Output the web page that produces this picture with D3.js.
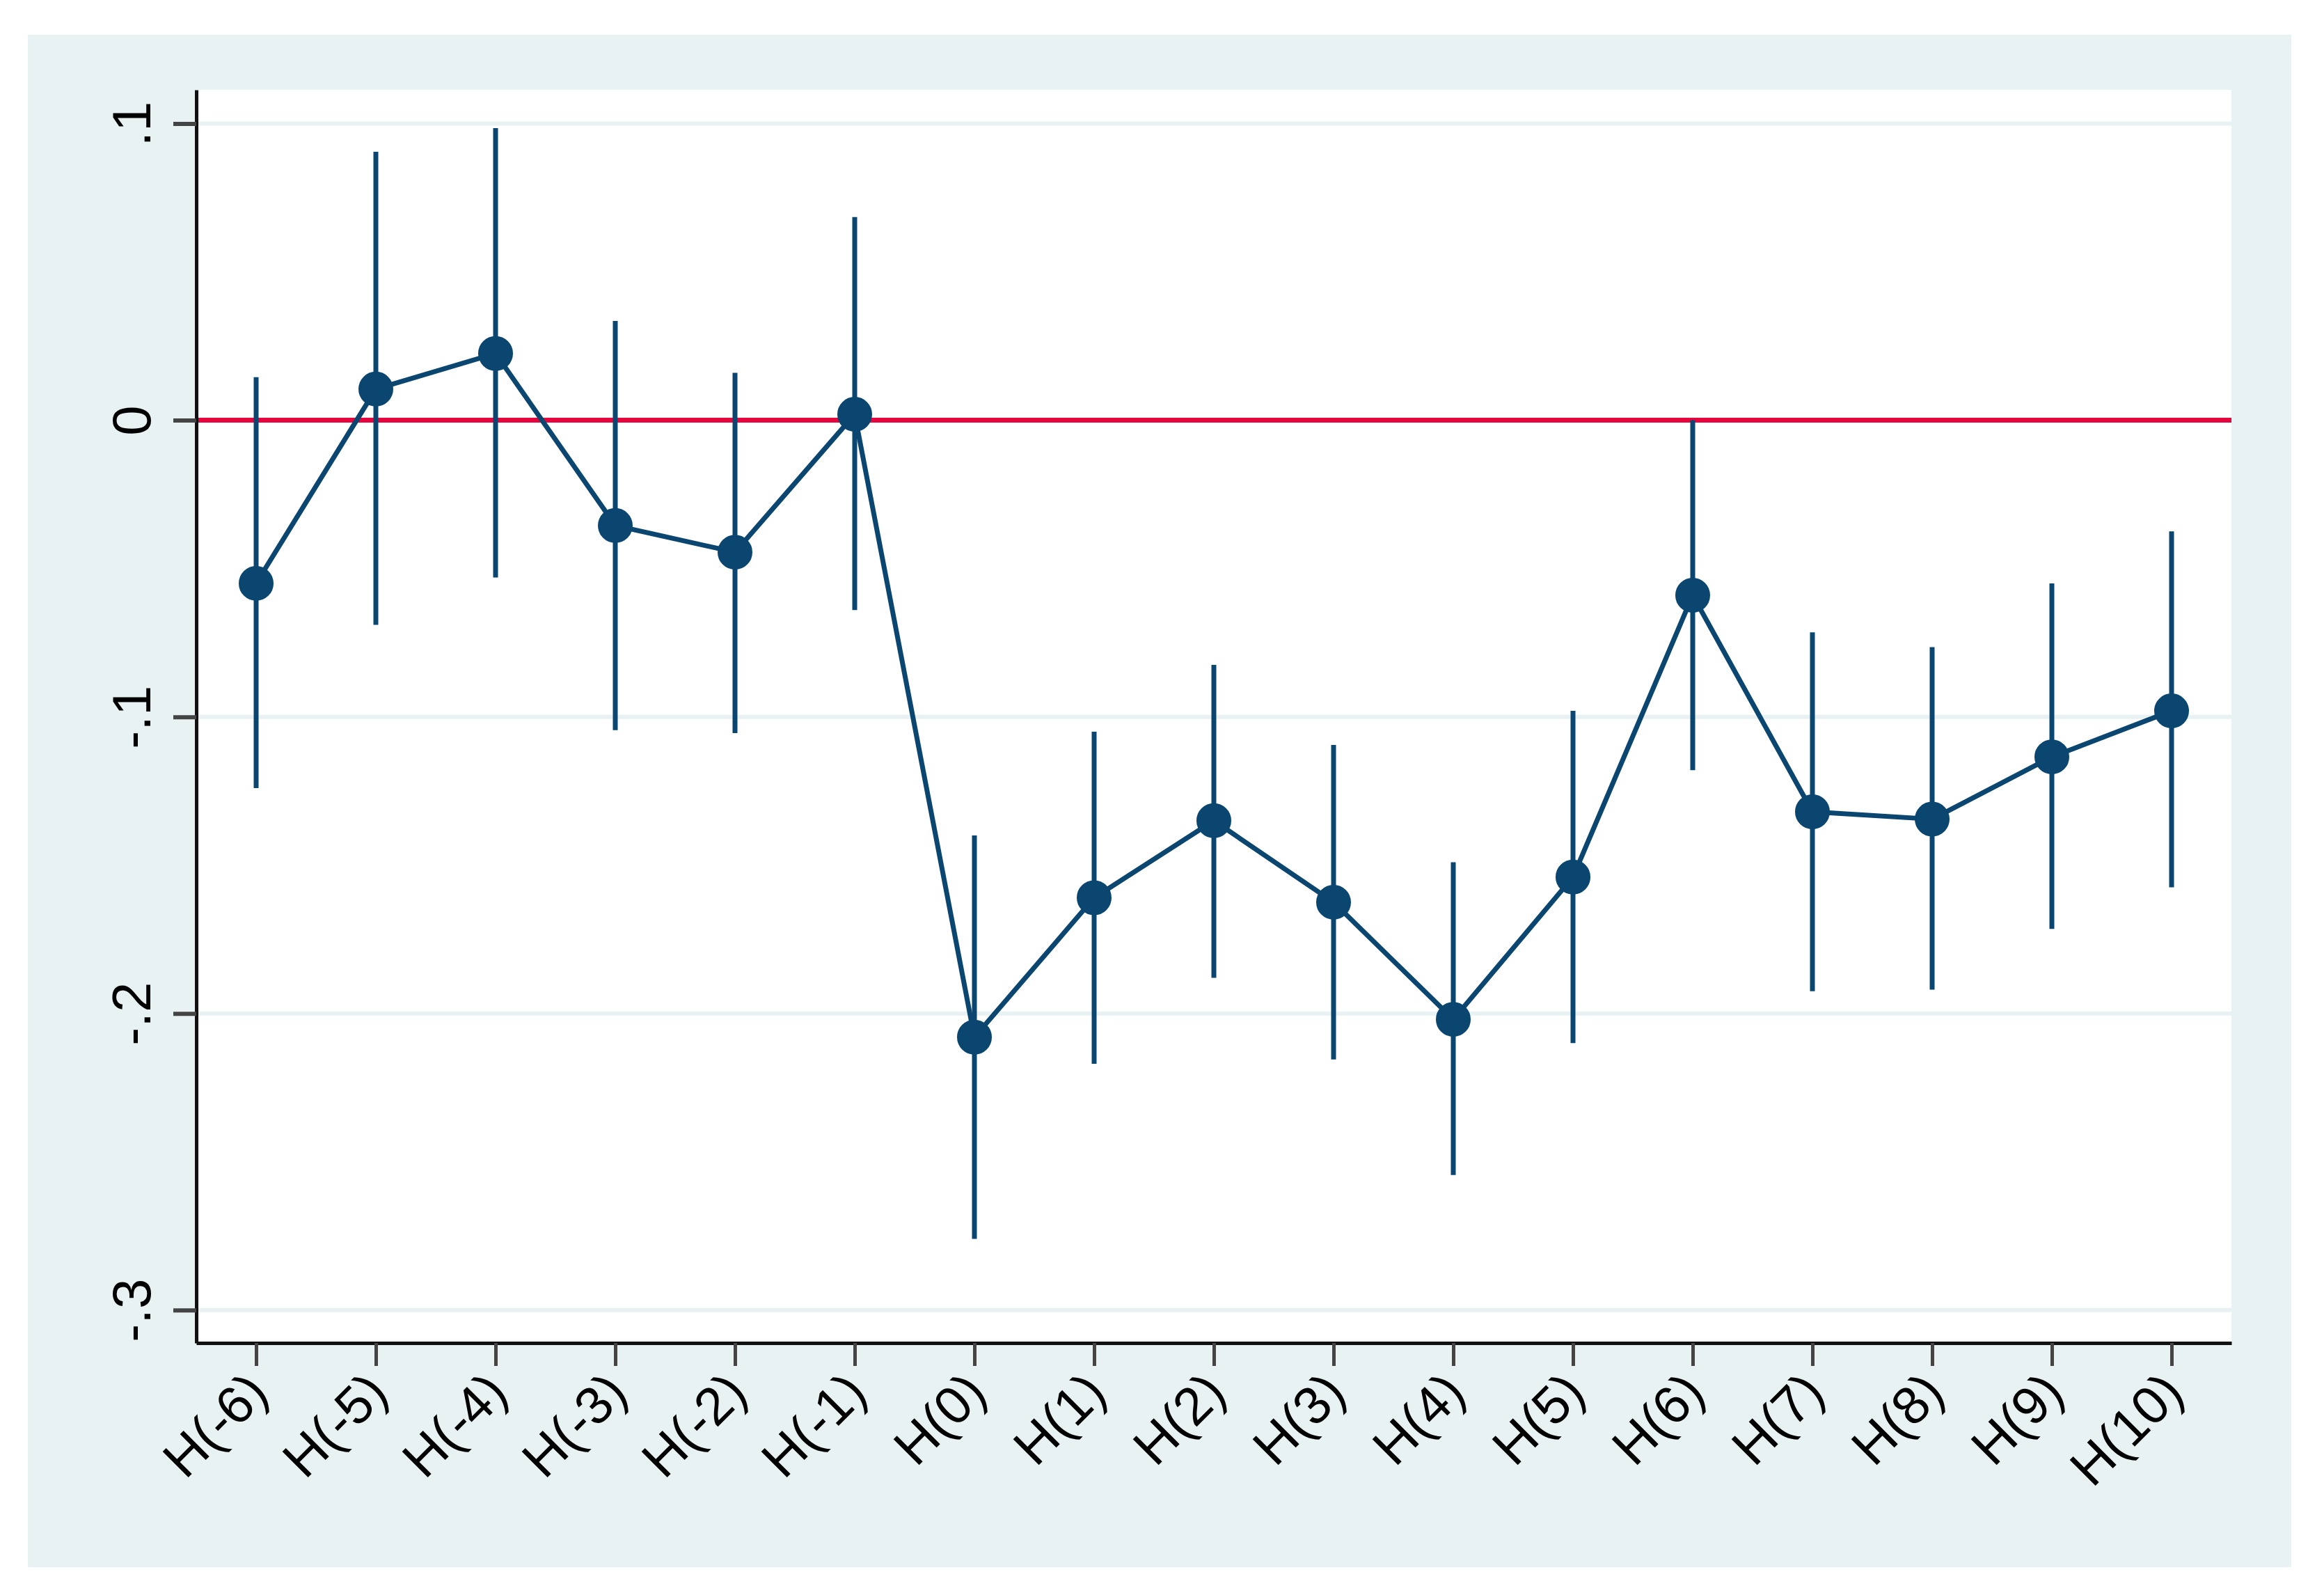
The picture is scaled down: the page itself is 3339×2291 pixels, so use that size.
<!DOCTYPE html>
<html>
<head>
<meta charset="utf-8">
<script src="https://cdn.jsdelivr.net/npm/d3@7"></script>
<style>
  body { margin: 0; background: #fff; }
  svg { display: block; }
</style>
</head>
<body>
<script>
// event study estimates with confidence intervals

var periods = ['H(-6)', 'H(-5)', 'H(-4)', 'H(-3)', 'H(-2)', 'H(-1)', 'H(0)', 'H(1)', 'H(2)',
  'H(3)', 'H(4)', 'H(5)', 'H(6)', 'H(7)', 'H(8)', 'H(9)', 'H(10)'];

var coef = [-0.055, 0.0105, 0.0225, -0.0355, -0.0445, 0.002, -0.208, -0.161, -0.135,
  -0.1625, -0.202, -0.154, -0.059, -0.132, -0.1345, -0.1135, -0.098];

var ciHigh = [0.0145, 0.0905, 0.0985, 0.0335, 0.016, 0.0685, -0.14, -0.105, -0.0825,
  -0.1095, -0.149, -0.098, 0.0, -0.0715, -0.0765, -0.055, -0.0375];

var ciLow = [-0.124, -0.069, -0.053, -0.1045, -0.1055, -0.064, -0.276, -0.217, -0.188,
  -0.2155, -0.2545, -0.21, -0.118, -0.1925, -0.192, -0.1715, -0.1575];

var yTicks = [-0.3, -0.2, -0.1, 0, 0.1];
var yTickLabels = ['-.3', '-.2', '-.1', '0', '.1'];

var W = 3339, H = 2291;
var navy = '#0a466f', red = '#e6063e', bg = '#e8f2f3';
var font = '"Liberation Sans", Arial, sans-serif';

var plot = { left: 282, right: 3206, top: 129, bottom: 1929 };

var svg = d3.select('body').append('svg').attr('width', W).attr('height', H);

// graph region
svg.append('rect').attr('x', 40).attr('y', 50).attr('width', 3252).attr('height', 2201).attr('fill', bg);
// plot region
svg.append('rect').attr('x', plot.left).attr('y', plot.top)
  .attr('width', plot.right - plot.left).attr('height', plot.bottom - plot.top).attr('fill', '#fff');

var x = d3.scalePoint().domain(periods).range([plot.left, plot.right]).padding(0.5);
var y = d3.scaleLinear().domain([-0.3111, 0.1114]).range([plot.bottom, plot.top]);

var data = periods.map(function(p, i) {
  return { p: p, b: coef[i], lo: ciLow[i], hi: ciHigh[i] };
});

// gridlines
svg.append('g').selectAll('line').data(yTicks.filter(function(t) { return t !== 0; })).enter().append('line')
  .attr('x1', plot.left).attr('x2', plot.right)
  .attr('y1', function(d) { return y(d); }).attr('y2', function(d) { return y(d); })
  .attr('stroke', bg).attr('stroke-width', 6);

// zero line
svg.append('line').attr('x1', plot.left).attr('x2', plot.right)
  .attr('y1', y(0)).attr('y2', y(0)).attr('stroke', red).attr('stroke-width', 7);

// error bars
svg.append('g').selectAll('line').data(data).enter().append('line')
  .attr('x1', function(d) { return x(d.p); }).attr('x2', function(d) { return x(d.p); })
  .attr('y1', function(d) { return y(d.lo); }).attr('y2', function(d) { return y(d.hi); })
  .attr('stroke', navy).attr('stroke-width', 7);

// connecting line
var line = d3.line().x(function(d) { return x(d.p); }).y(function(d) { return y(d.b); });
svg.append('path').datum(data).attr('d', line)
  .attr('fill', 'none').attr('stroke', navy).attr('stroke-width', 7).attr('stroke-linejoin', 'round');

// markers
svg.append('g').selectAll('circle').data(data).enter().append('circle')
  .attr('cx', function(d) { return x(d.p); }).attr('cy', function(d) { return y(d.b); })
  .attr('r', 24).attr('fill', navy).attr('stroke', navy).attr('stroke-width', 2);

// y axis
var yAxis = svg.append('g').attr('transform', 'translate(' + plot.left + ',0)')
  .call(d3.axisLeft(y).tickValues(yTicks).tickSize(33).tickSizeOuter(0)
    .tickFormat(function(d, i) { return yTickLabels[i]; }));
yAxis.select('.domain').attr('stroke', '#111').attr('stroke-width', 5);
yAxis.selectAll('.tick line').attr('stroke', '#444').attr('stroke-width', 6);
yAxis.selectAll('.tick text')
  .attr('x', null).attr('dy', null)
  .attr('transform', 'translate(-66,0) rotate(-90)')
  .style('text-anchor', 'middle')
  .attr('font-family', font).attr('font-size', 78).attr('fill', '#000');

// x axis
var xAxis = svg.append('g').attr('transform', 'translate(0,' + plot.bottom + ')')
  .call(d3.axisBottom(x).tickSize(33).tickSizeOuter(0));
xAxis.select('.domain').attr('stroke', '#111').attr('stroke-width', 5);
xAxis.selectAll('.tick line').attr('stroke', '#444').attr('stroke-width', 5);
xAxis.selectAll('.tick text')
  .attr('y', null).attr('dy', '0.3em')
  .attr('transform', 'translate(4,59) rotate(-45)')
  .style('text-anchor', 'end')
  .attr('font-family', font).attr('font-size', 76).attr('fill', '#000');

svg.selectAll('.domain').attr('fill', 'none');
</script>
</body>
</html>
